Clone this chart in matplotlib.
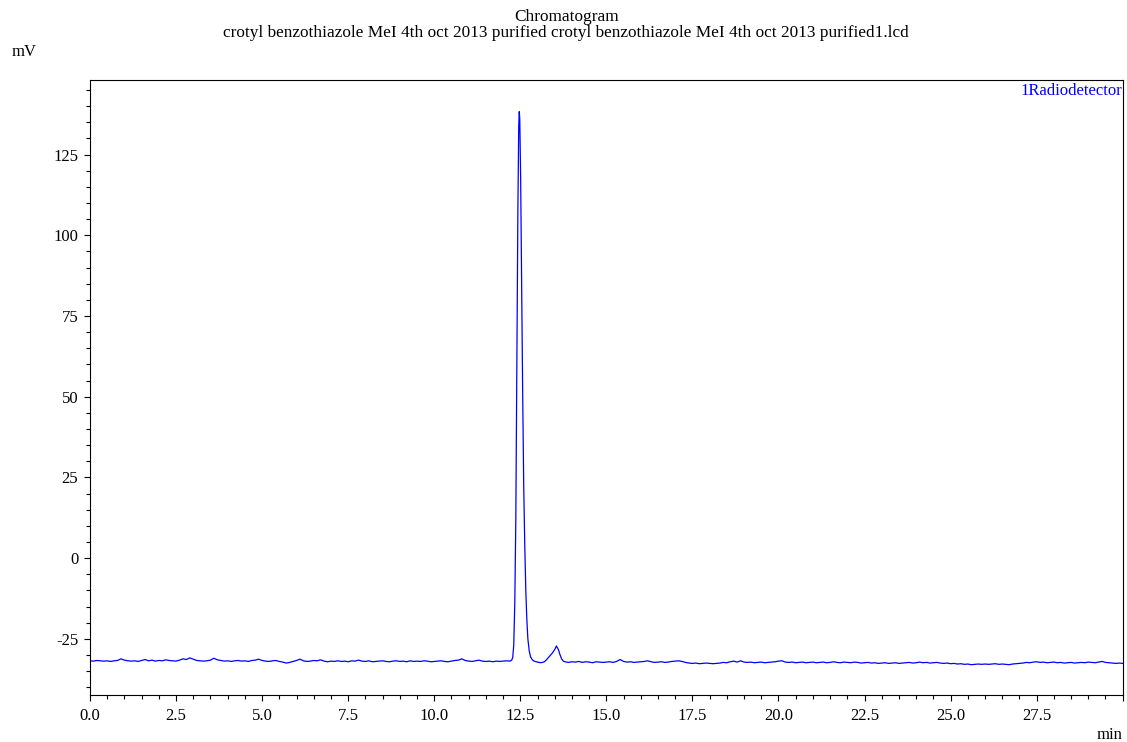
import matplotlib
matplotlib.use('Agg')
from matplotlib import pyplot as plt
from matplotlib.ticker import MultipleLocator

# retention time (min) and detector signal (mV)
times = [
    0.0, 0.1, 0.2, 0.3, 0.4, 0.5, 0.6, 0.7, 0.8, 0.9,
    1.0, 1.1, 1.2, 1.3, 1.4, 1.5, 1.6, 1.7, 1.8, 1.9,
    2.0, 2.1, 2.2, 2.3, 2.4, 2.5, 2.6, 2.7, 2.8, 2.9,
    3.0, 3.1, 3.2, 3.3, 3.4, 3.5, 3.6, 3.7, 3.8, 3.9,
    4.0, 4.1, 4.2, 4.3, 4.4, 4.5, 4.6, 4.7, 4.8, 4.9,
    5.0, 5.1, 5.2, 5.3, 5.4, 5.5, 5.6, 5.7, 5.8, 5.9,
    6.0, 6.1, 6.2, 6.3, 6.4, 6.5, 6.6, 6.7, 6.8, 6.9,
    7.0, 7.1, 7.2, 7.3, 7.4, 7.5, 7.6, 7.7, 7.8, 7.9,
    8.0, 8.1, 8.2, 8.3, 8.4, 8.5, 8.6, 8.7, 8.8, 8.9,
    9.0, 9.1, 9.2, 9.3, 9.4, 9.5, 9.6, 9.7, 9.8, 9.9,
    10.0, 10.1, 10.2, 10.3, 10.4, 10.5, 10.6, 10.7, 10.8, 10.9,
    11.0, 11.1, 11.2, 11.3, 11.4, 11.5, 11.6, 11.7, 11.8, 11.9,
    12.0, 12.1, 12.2,
    12.25, 12.28, 12.31, 12.34, 12.37, 12.40, 12.43, 12.455, 12.47, 12.485,
    12.51, 12.54, 12.57, 12.60, 12.63, 12.66, 12.69, 12.72, 12.76, 12.80,
    12.85, 12.90,
    13.0, 13.1, 13.2, 13.25, 13.3, 13.37, 13.43, 13.5, 13.53, 13.55,
    13.58, 13.61, 13.65, 13.7, 13.75, 13.8,
    13.9, 14.0, 14.1, 14.2, 14.3, 14.4, 14.5, 14.6, 14.7, 14.8, 14.9,
    15.0, 15.1, 15.2, 15.3, 15.4, 15.5, 15.6, 15.7, 15.8, 15.9, 16.0,
    16.1, 16.2, 16.3, 16.4, 16.5, 16.6, 16.7, 16.8, 16.9, 17.0,
    17.1, 17.2, 17.3, 17.4, 17.5, 17.6, 17.7, 17.8, 17.9, 18.0,
    18.1, 18.2, 18.3, 18.4, 18.5, 18.6, 18.7, 18.8, 18.9, 19.0,
    19.1, 19.2, 19.3, 19.4, 19.5, 19.6, 19.7, 19.8, 19.9, 20.0,
    20.1, 20.2, 20.3, 20.4, 20.5, 20.6, 20.7, 20.8, 20.9, 21.0,
    21.1, 21.2, 21.3, 21.4, 21.5, 21.6, 21.7, 21.8, 21.9, 22.0,
    22.1, 22.2, 22.3, 22.4, 22.5, 22.6, 22.7, 22.8, 22.9, 23.0,
    23.1, 23.2, 23.3, 23.4, 23.5, 23.6, 23.7, 23.8, 23.9, 24.0,
    24.1, 24.2, 24.3, 24.4, 24.5, 24.6, 24.7, 24.8, 24.9, 25.0,
    25.1, 25.2, 25.3, 25.4, 25.5, 25.6, 25.7, 25.8, 25.9, 26.0,
    26.1, 26.2, 26.3, 26.4, 26.5, 26.6, 26.7, 26.8, 26.9, 27.0,
    27.1, 27.2, 27.3, 27.4, 27.5, 27.6, 27.7, 27.8, 27.9, 28.0,
    28.1, 28.2, 28.3, 28.4, 28.5, 28.6, 28.7, 28.8, 28.9, 29.0,
    29.1, 29.2, 29.3, 29.4, 29.5, 29.6, 29.7, 29.8, 29.9, 30.0,
]

signal = [
    -31.8, -31.9, -31.7, -31.8, -31.9, -31.8, -32.0, -31.8, -31.7, -31.2,
    -31.6, -31.8, -31.9, -31.8, -32.0, -31.7, -31.4, -31.8, -31.6, -31.9,
    -31.7, -31.8, -31.5, -31.7, -31.8, -31.9, -31.6, -31.2, -31.4, -30.9,
    -31.3, -31.7, -31.8, -31.9, -31.8, -31.6, -31.0, -31.5, -31.7, -31.9,
    -31.8, -32.0, -31.8, -31.7, -31.9, -31.8, -32.0, -31.7, -31.6, -31.3,
    -31.7, -31.9, -32.0, -31.8, -31.7, -32.0, -32.2, -32.5, -32.3, -32.0,
    -31.7, -31.3, -31.8, -32.0, -31.9, -31.7, -31.8, -31.5, -31.9, -32.1,
    -31.9, -32.0, -31.8, -32.0, -31.9, -32.1, -31.8, -31.9, -31.6, -31.9,
    -32.0, -31.8, -32.1, -32.0, -31.9, -31.8, -32.0, -32.1, -31.9, -31.8,
    -32.0, -31.9, -32.1, -31.8, -32.0, -31.9, -32.0, -31.8, -31.9, -32.1,
    -32.0, -31.9, -31.8, -32.0, -32.1, -31.9, -31.7, -31.6, -31.2, -31.7,
    -31.9, -32.0, -31.8, -31.6, -31.9, -32.0, -31.9, -32.1, -31.9, -32.0,
    -31.9, -31.8, -31.9,
    -31.6, -30.8, -27.0, -14.0, 12.0, 58.0, 108.0, 134.0, 138.3, 136.0,
    118.0, 84.0, 50.0, 22.0, 4.0, -10.0, -19.0, -25.0, -28.8, -30.6,
    -31.5, -31.9,
    -32.2, -32.4, -32.1, -31.6, -31.0, -30.2, -29.4, -28.3, -27.6, -27.2,
    -27.8, -28.4, -29.8, -31.2, -31.9, -32.1,
    -32.3, -32.1, -32.2, -32.0, -32.3, -32.1, -32.2, -32.4, -32.1, -32.2, -32.3,
    -32.2, -32.1, -32.3, -32.0, -31.4, -32.0, -32.2, -32.1, -32.3, -32.2, -32.1,
    -32.0, -31.8, -32.1, -32.3, -32.2, -32.1, -32.3, -32.2, -32.0, -31.9,
    -31.8, -32.0, -32.3, -32.5, -32.6, -32.5, -32.7, -32.6, -32.5, -32.6,
    -32.7, -32.6, -32.5, -32.3, -32.4, -32.1, -31.9, -32.2, -31.8, -32.2,
    -32.3, -32.2, -32.4, -32.3, -32.2, -32.4, -32.3, -32.2, -32.1, -31.9,
    -31.8, -32.2, -32.3, -32.2, -32.4, -32.3, -32.2, -32.4, -32.3, -32.2,
    -32.4, -32.3, -32.2, -32.4, -32.3, -32.1, -32.3, -32.4, -32.2, -32.3,
    -32.4, -32.2, -32.3, -32.5, -32.4, -32.3, -32.5, -32.4, -32.6, -32.5,
    -32.4, -32.6, -32.5, -32.4, -32.6, -32.5, -32.4, -32.3, -32.5, -32.4,
    -32.2, -32.4, -32.3, -32.5, -32.4, -32.3, -32.5, -32.6, -32.5, -32.7,
    -32.6, -32.8, -32.7, -32.9, -32.8, -33.0, -32.9, -32.8, -32.9, -32.8,
    -32.9, -32.8, -32.7, -32.9, -32.8, -32.9, -33.0, -32.8, -32.7, -32.6,
    -32.5, -32.3, -32.4, -32.2, -32.1, -32.3, -32.2, -32.4, -32.3, -32.2,
    -32.4, -32.3, -32.5, -32.4, -32.3, -32.5, -32.4, -32.3, -32.4, -32.2,
    -32.3, -32.4, -32.2, -32.0, -32.3, -32.4, -32.5, -32.6, -32.5, -32.6,
]

x_ticks = [0.0, 2.5, 5.0, 7.5, 10.0, 12.5, 15.0, 17.5, 20.0, 22.5, 25.0, 27.5, 30.0]
x_labels = ['0.0', '2.5', '5.0', '7.5', '10.0', '12.5', '15.0', '17.5',
            '20.0', '22.5', '25.0', '27.5', '']
y_ticks = [-25, 0, 25, 50, 75, 100, 125]

plt.rcParams['font.family'] = ['Liberation Serif', 'DejaVu Serif']
plt.rcParams['axes.unicode_minus'] = False

fig = plt.figure(figsize=(11.27, 7.42), dpi=100)
ax = fig.add_axes([90 / 1127, 47.3 / 742, 1032.7 / 1127, 614.7 / 742])

ax.plot(times, signal, color='#0000ff', lw=0.9)

ax.set_xlim(0, 30)
ax.set_ylim(-42.3, 148.1)
ax.set_xticks(x_ticks)
ax.set_xticklabels(x_labels)
ax.set_yticks(y_ticks)
ax.set_yticklabels([str(v) for v in y_ticks])
ax.xaxis.set_minor_locator(MultipleLocator(0.5))
ax.yaxis.set_minor_locator(MultipleLocator(5))
ax.tick_params(axis='both', which='major', direction='out', length=4.5,
               width=0.8, labelsize=12, color='black')
ax.tick_params(axis='both', which='minor', direction='out', length=3,
               width=0.8, color='black')
ax.tick_params(axis='x', which='major', pad=5)
ax.tick_params(axis='y', which='major', pad=4)
for s in ax.spines.values():
    s.set_linewidth(0.8)

# titulo e rotulos
fig.text(567 / 1127, 1 - 17 / 742, 'Chromatogram', ha='center', va='center', fontsize=12.4)
fig.text(566 / 1127, 1 - 33 / 742,
         'crotyl benzothiazole MeI 4th oct 2013 purified crotyl benzothiazole MeI 4th oct 2013 purified1.lcd',
         ha='center', va='center', fontsize=12.4)
fig.text(12 / 1127, 1 - 52 / 742, 'mV', ha='left', va='center', fontsize=12)
fig.text(1122 / 1127, 1 - 735 / 742, 'min', ha='right', va='center', fontsize=12)
ax.text(1.0, 0.995, '1Radiodetector', transform=ax.transAxes, ha='right', va='top',
        color='#0000ff', fontsize=12)

fig.savefig('out.png', dpi=100)
